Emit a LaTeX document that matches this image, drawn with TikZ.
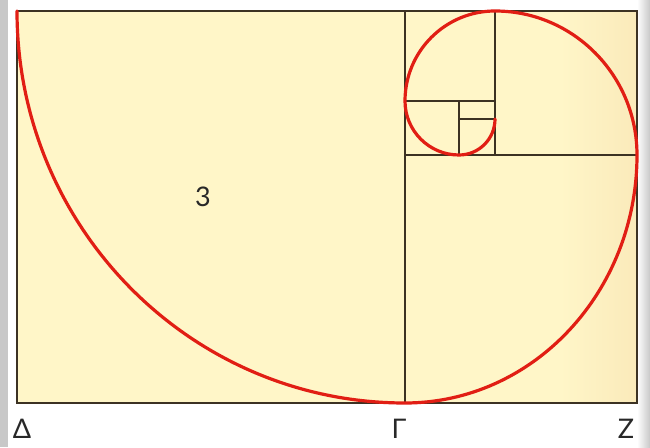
\documentclass[tikz,border=0pt]{standalone}
\usepackage{fontspec}
\setmainfont{Lato}
\definecolor{paper}{RGB}{255,246,200}
\definecolor{paperdark}{RGB}{250,234,186}
\definecolor{stripgrey}{RGB}{200,200,200}
\definecolor{framec}{RGB}{60,50,35}
\definecolor{spiralred}{RGB}{225,30,20}
\definecolor{labelc}{RGB}{40,40,40}

\begin{document}
\begin{tikzpicture}[x=1pt,y=1pt,
  frame/.style={draw=framec, line width=1.1pt},
  spiral/.style={draw=spiralred, line width=3.2pt, line cap=round},
  lbl/.style={font=\fontsize{27}{29}\selectfont, text=labelc, inner sep=0pt}]
  \useasboundingbox (0,0) rectangle (650,447);
  % page and paper
  \fill[white] (0,0) rectangle (650,447);
  \fill[stripgrey] (0,0) rectangle (8,447);
  \shade[left color=white, right color=stripgrey] (637,0) rectangle (650,447);
  \fill[paper] (17,44) rectangle (637,436);
  \shade[left color=paper, right color=paperdark] (560,44) rectangle (637,436);
  % corners of the squares
  \coordinate (D)  at (17,44);
  \coordinate (G)  at (405,44);
  \coordinate (Z)  at (637,44);
  \coordinate (TL) at (17,436);
  \coordinate (TR) at (637,436);
  \coordinate (GT) at (405,436);
  \coordinate (M1) at (405,292);
  \coordinate (M2) at (637,292);
  \coordinate (S1) at (495,436);
  \coordinate (S2) at (495,292);
  \coordinate (S3) at (405,346);
  \coordinate (S4) at (495,346);
  \coordinate (S5) at (459,346);
  \coordinate (S6) at (459,292);
  \coordinate (S7) at (459,328);
  \coordinate (S8) at (495,328);
  % squares
  \draw[frame] (D) rectangle (TR);
  \draw[frame] (G) -- (GT);
  \draw[frame] (M1) -- (M2);
  \draw[frame] (S1) -- (S2);
  \draw[frame] (S3) -- (S4);
  \draw[frame] (S5) -- (S6);
  \draw[frame] (S7) -- (S8);
  % golden spiral
  \draw[spiral] (TL) arc[start angle=180, end angle=270, x radius=388, y radius=392]
    arc[start angle=270, end angle=360, x radius=232, y radius=248]
    arc[start angle=0, end angle=90, x radius=142, y radius=144]
    arc[start angle=90, end angle=180, radius=90]
    arc[start angle=180, end angle=270, radius=54]
    arc[start angle=270, end angle=360, radius=36];
  % labels
  \node[lbl] (three) at (203,250) {3};
  \node[lbl] (delta) at (22,18) {Δ};
  \node[lbl] (gamma) at (399,18) {Γ};
  \node[lbl] (zeta)  at (626,18) {Z};
\end{tikzpicture}
\end{document}
